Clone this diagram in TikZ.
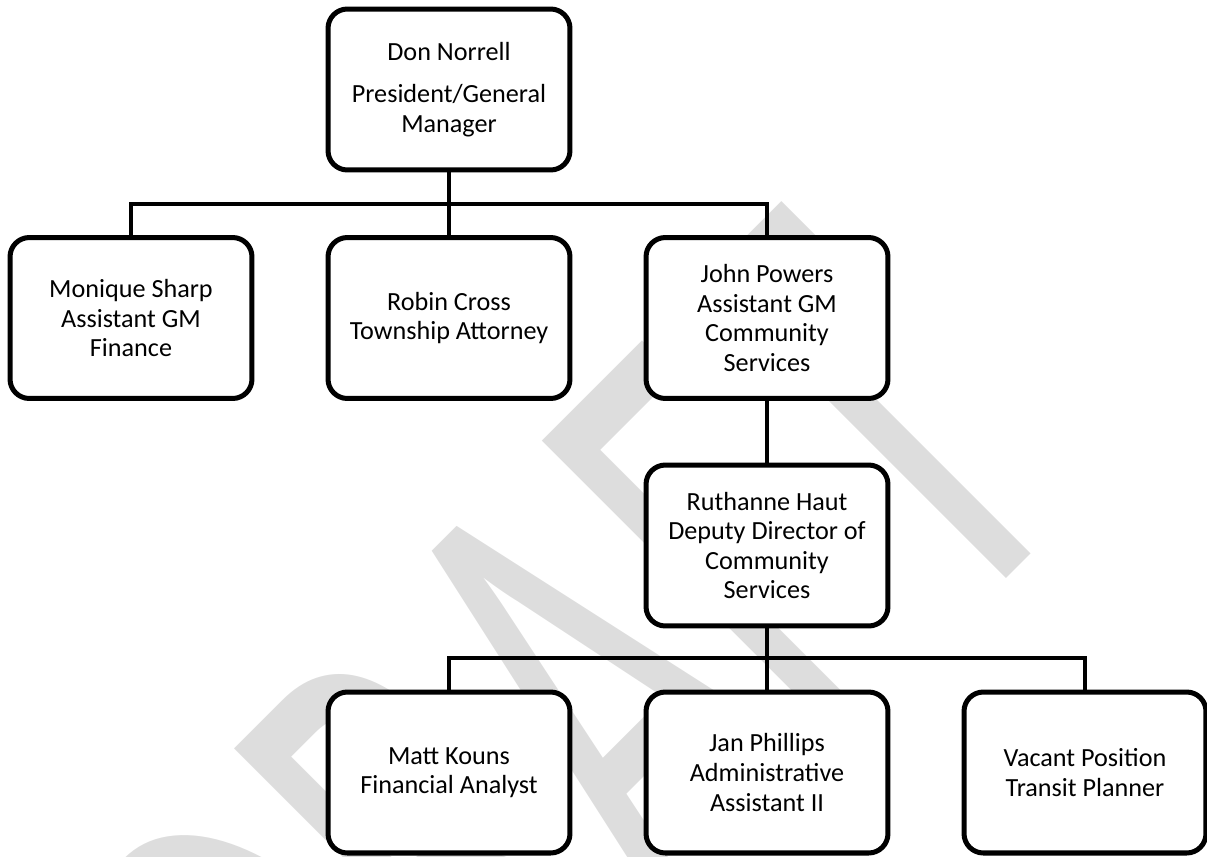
\documentclass[tikz,border=0pt]{standalone}
\usepackage{fontspec}
\setmainfont{Carlito}
\usetikzlibrary{calc}
\usepackage{xcolor}
\definecolor{wmgray}{RGB}{221,221,221}

\begin{document}
\begin{tikzpicture}[x=.02cm, y=-.02cm,
 box/.style={draw, line width=2.85pt, rounded corners=11pt, fill=white, minimum width=4.84cm, minimum height=3.22cm, align=center, inner sep=2pt, font=\fontsize{14.9}{16.8}\selectfont},
 link/.style={line width=2.3pt}]
\useasboundingbox (0,0) rectangle (1207,856);
\begin{scope}
\clip (0,0) rectangle (1207,856);
\node[text=wmgray, rotate=45, anchor=base, inner sep=0, font=\fontsize{222}{222}\selectfont] (draft) at (716,869) {\scalebox{1}[1.7]{DRAFT}};
\end{scope}
\node[box] (don) at (449,89.5) {Don Norrell\\[7pt] President/General\\ Manager};
\node[box] (monique) at (131,318) {Monique Sharp\\ Assistant GM\\ Finance};
\node[box] (robin) at (449,318) {Robin Cross\\ Township Attorney};
\node[box] (john) at (767,318) {John Powers\\ Assistant GM\\ Community\\ Services};
\node[box] (ruth) at (767,545.5) {Ruthanne Haut\\ Deputy Director of\\ Community\\ Services};
\node[box] (matt) at (449,772.5) {Matt Kouns\\ Financial Analyst};
\node[box] (jan) at (767,772.5) {Jan Phillips\\ Administrative\\ Assistant II};
\node[box] (vacant) at (1085,772.5) {Vacant Position\\ Transit Planner};
\coordinate (busA) at (449,204);
\coordinate (busB) at (767,658);
\draw[link] (don.south) -- (robin.north);
\draw[link] (monique.north) -- (monique.north |- busA) -- (john.north |- busA) -- (john.north);
\draw[link] (john.south) -- (ruth.north);
\draw[link] (ruth.south) -- (jan.north);
\draw[link] (matt.north) -- (matt.north |- busB) -- (vacant.north |- busB) -- (vacant.north);
\end{tikzpicture}
\end{document}
